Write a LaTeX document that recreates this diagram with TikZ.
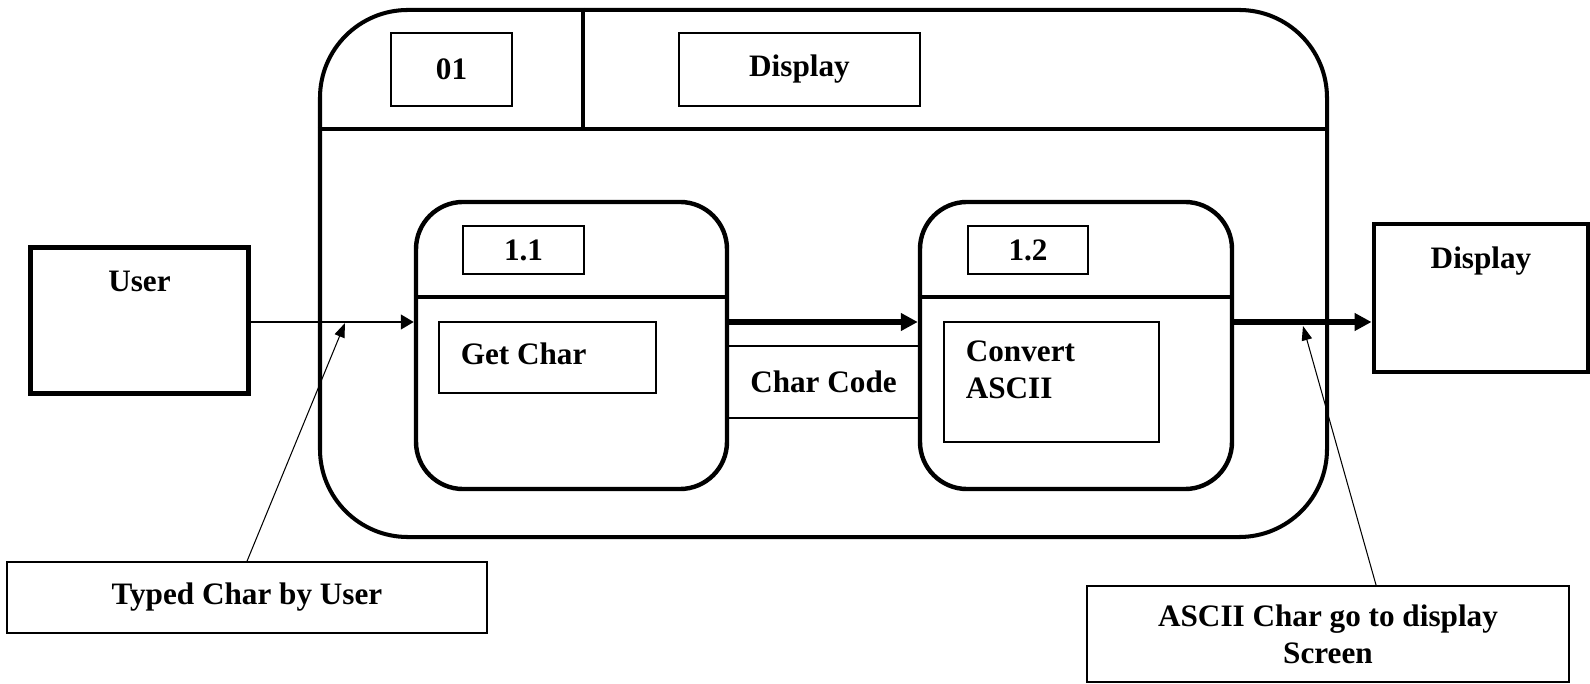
\documentclass[tikz,border=0pt]{standalone}
\usepackage{fontspec}
\setmainfont{Liberation Serif}
\usetikzlibrary{arrows.meta, positioning}
\tikzset{
    outerproc/.style={rectangle, draw, line width=1.55pt, rounded corners=33.8pt, minimum width=387.3pt, minimum height=202.7pt, inner sep=0pt},
    subproc/.style={rectangle, draw, line width=1.7pt, rounded corners=18.1pt, minimum height=110.4pt, inner sep=0pt},
    entity/.style={rectangle, draw, line width=1.9pt, inner sep=0pt},
    idbox/.style={rectangle, draw, line width=0.6pt, inner sep=0pt},
    boxtext/.style={inner sep=0pt, align=left},
    arrow/.style={-{Triangle[length=5pt, width=5.6pt]}, line width=1pt},
    thickarrow/.style={-{Triangle[length=6.5pt, width=6.5pt]}, line width=2.3pt},
    callout/.style={-{Triangle[length=5.5pt, width=4pt]}, line width=0.4pt},
    line/.style={line width=1.55pt}
}
\begin{document}
\begin{tikzpicture}[x=0.3846pt, y=-0.3846pt, font=\fontsize{12}{14.2}\selectfont\bfseries]
    \useasboundingbox (0,0) rectangle (1590,684);

    % outer process
    \node[outerproc] (display_proc) at (823.5,273.5) {};
    \draw[line] (display_proc.west |- 0,129) -- (display_proc.east |- 0,129);
    \draw[line] (display_proc.north -| 583,0) -- (583,129);
    \node[idbox, minimum width=46.5pt, minimum height=28.1pt] (proc_id) at (451.5,69.5) {01};
    \node[idbox, minimum width=92.7pt, minimum height=28.1pt] (proc_name) at (799.5,69.5) {Display};

    % sub process 1.1
    \node[subproc, minimum width=119.6pt] (get_char) at (571.5,345.5) {};
    \draw[line] (get_char.west |- 0,297) -- (get_char.east |- 0,297);
    \node[idbox, minimum width=46.5pt, minimum height=18.5pt] (get_char_id) at (523.5,250) {1.1};
    \node[idbox, minimum width=83.5pt, minimum height=27.3pt] (get_char_body) at (547.5,357.5) {};
    \node[boxtext, anchor=north west] (get_char_text) at ([xshift=8.5pt, yshift=-8.1pt]get_char_body.north west) {Get Char};

    % sub process 1.2
    \node[subproc, minimum width=120pt] (convert) at (1076,345.5) {};
    \draw[line] (convert.west |- 0,297) -- (convert.east |- 0,297);
    \node[idbox, minimum width=46.2pt, minimum height=18.5pt] (convert_id) at (1028,250) {1.2};
    \node[idbox, minimum width=82.7pt, minimum height=46.2pt] (convert_body) at (1051.5,382) {};
    \node[boxtext, anchor=north west] (convert_text) at ([xshift=8.5pt, yshift=-7.5pt]convert_body.north west) {Convert\\ASCII};

    % data between the sub processes
    \node[idbox, minimum width=74.2pt, minimum height=27.7pt] (char_code) at (823.5,382) {Char Code};

    % external entities
    \node[entity, minimum width=83.5pt, minimum height=55.8pt] (user) at (139.5,320.5) {};
    \node[boxtext, below=9.6pt of user.north] (user_text) {User};
    \node[entity, minimum width=82.3pt, minimum height=56.9pt] (screen) at (1481,298) {};
    \node[boxtext, below=9.6pt of screen.north] (screen_text) {Display};

    % flows
    \coordinate (flow_level) at (0,322);
    \draw[arrow] (user.east |- flow_level) -- (get_char.west |- flow_level);
    \draw[thickarrow] (get_char.east |- flow_level) -- (convert.west |- flow_level);
    \draw[thickarrow] (convert.east |- flow_level) -- (screen.west |- flow_level);

    % notes
    \node[idbox, minimum width=184.6pt, minimum height=27.3pt] (typed_note) at (247,597.5) {Typed Char by User};
    \node[idbox, minimum width=185.4pt, minimum height=36.9pt, align=center] (ascii_note) at (1328,634) {ASCII Char go to display\\Screen};
    \coordinate (typed_tip) at (345,323);
    \coordinate (ascii_tip) at (1303,326);
    \draw[callout] (typed_note.north) -- (typed_tip);
    \draw[callout] ([xshift=18.5pt]ascii_note.north) -- (ascii_tip);
\end{tikzpicture}
\end{document}
